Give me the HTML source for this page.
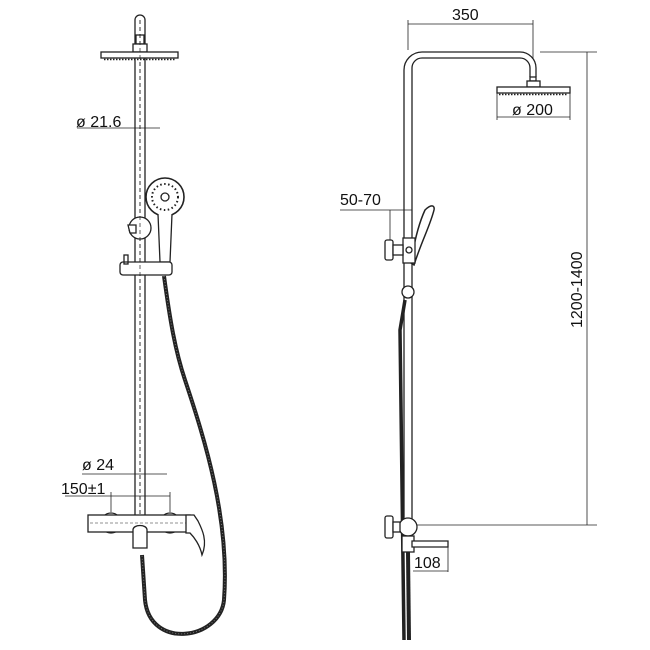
<!DOCTYPE html>
<html><head><style>body{margin:0;background:#fff}svg{display:block}text{font-family:"Liberation Sans",sans-serif;font-size:16px;fill:#111;stroke:none}</style></head><body>
<svg width="650" height="650" viewBox="0 0 650 650" fill="none" stroke="#222" stroke-width="1.3">
<!-- LEFT VIEW -->
<path d="M135 520 V20 a5 5 0 0 1 10 0 V520" fill="#fff"/>
<line x1="140" y1="20" x2="140" y2="515" stroke-dasharray="4 3" stroke-width="0.7"/>
<rect x="136" y="35" width="8" height="9"/>
<rect x="133" y="44" width="14" height="8" fill="#fff"/>
<rect x="101" y="52" width="77" height="6" fill="#fff"/>
<line x1="104" y1="59.5" x2="176" y2="59.5" stroke-dasharray="1.5 1.5" stroke-width="1.5"/>
<text x="76" y="127">ø 21.6</text>
<line x1="77" y1="128" x2="160" y2="128" stroke-width="0.8"/>
<circle cx="165" cy="197" r="19" fill="#fff" stroke-width="1.6"/>
<circle cx="165" cy="197" r="4"/>
<circle cx="165" cy="197" r="13" stroke-dasharray="1.5 2.5" stroke-width="2"/>
<path d="M158 214 L160 262 H170 L172 214" fill="#fff"/>
<circle cx="140" cy="228" r="11" fill="#fff"/>
<path d="M128 225 h8 v8 h-6 z" fill="#fff"/>
<rect x="120" y="262" width="52" height="13" rx="3" fill="#fff"/>
<rect x="124" y="255" width="4" height="9"/>
<line x1="140" y1="20" x2="140" y2="515" stroke-dasharray="4 3" stroke-width="0.7"/>
<path d="M164 276 C170 320 175 350 185 380 C205 440 230 520 224 600 C220 640 150 650 145 600 L142 555" stroke="#222" stroke-width="4"/>
<path d="M164 276 C170 320 175 350 185 380 C205 440 230 520 224 600 C220 640 150 650 145 600 L142 555" stroke="#777" stroke-width="1" stroke-dasharray="1 2"/>
<text x="82" y="470">ø 24</text>
<line x1="82" y1="474" x2="167" y2="474" stroke-width="0.8"/>
<text x="61" y="494">150±1</text>
<line x1="65" y1="496" x2="170" y2="496" stroke-width="0.8"/>
<line x1="111" y1="492" x2="111" y2="512" stroke-width="0.8"/>
<line x1="170" y1="492" x2="170" y2="512" stroke-width="0.8"/>
<circle cx="111" cy="523" r="10" fill="#fff"/>
<circle cx="170" cy="523" r="10" fill="#fff"/>
<rect x="88" y="515" width="102" height="17" fill="#fff"/>
<line x1="90" y1="523" x2="188" y2="523" stroke-dasharray="3 2" stroke-width="0.6"/>
<path d="M186 515 h8 l4 6 c4 8 10 20 4 34 c-2 -10 -8 -18 -12 -22 h-4z" fill="#fff"/>
<path d="M133 530 c0 -6 14 -6 14 0 v18 h-14z" fill="#fff"/>
<!-- RIGHT VIEW -->
<text x="452" y="20">350</text>
<line x1="408" y1="24" x2="533" y2="24" stroke-width="0.8"/>
<line x1="408" y1="20" x2="408" y2="50" stroke-width="0.8"/>
<line x1="533" y1="20" x2="533" y2="82" stroke-width="0.8"/>
<path d="M404 525 V70 a18 18 0 0 1 18 -18 H520 a16 16 0 0 1 16 16 V77 M530 77 V68 a10 10 0 0 0 -10 -10 H422 a10 10 0 0 0 -10 10 V525" fill="#fff"/>
<rect x="530" y="77" width="6" height="4"/>
<rect x="527" y="81" width="13" height="6" fill="#fff"/>
<rect x="497" y="87" width="73" height="6" fill="#fff"/>
<line x1="499" y1="94.5" x2="568" y2="94.5" stroke-dasharray="1.5 1.5" stroke-width="1.5"/>
<text x="512" y="115">ø 200</text>
<line x1="497" y1="117" x2="570" y2="117" stroke-width="0.8"/>
<line x1="497" y1="93" x2="497" y2="120" stroke-width="0.8"/>
<line x1="570" y1="93" x2="570" y2="120" stroke-width="0.8"/>
<line x1="540" y1="52" x2="597" y2="52" stroke-width="0.8"/>
<line x1="416" y1="525" x2="597" y2="525" stroke-width="0.8"/>
<line x1="587" y1="52" x2="587" y2="525" stroke-width="0.8"/>
<text transform="translate(582 328) rotate(-90)">1200-1400</text>
<text x="340" y="205">50-70</text>
<line x1="340" y1="210" x2="412" y2="210" stroke-width="0.8"/>
<line x1="390" y1="210" x2="390" y2="240" stroke-width="0.8"/>
<path d="M425 210 c6 -6 10 -5 9 0 c-4 16 -12 30 -20 55 l-3 -2 c3 -20 8 -40 14 -53z" fill="#fff" stroke-width="1.5"/>
<rect x="403" y="238" width="12" height="25" fill="#fff"/>
<rect x="385" y="240" width="8" height="20" rx="2" fill="#fff"/>
<rect x="393" y="245" width="10" height="10" fill="#fff"/>
<circle cx="409" cy="250" r="3"/>
<circle cx="408" cy="292" r="6" fill="#fff"/>
<path d="M405 300 L400 330 L404 640" stroke-width="3.5"/>
<circle cx="408" cy="527" r="9" fill="#fff"/>
<rect x="385" y="516" width="8" height="22" rx="2" fill="#fff"/>
<rect x="393" y="522" width="7" height="10" fill="#fff"/>
<rect x="402" y="536" width="12" height="16" fill="#fff"/>
<path d="M412 541 H448 v6 H412z" fill="#fff"/>
<line x1="448" y1="545" x2="448" y2="572" stroke-width="0.8"/>
<text x="414" y="568">108</text>
<line x1="413" y1="571" x2="448" y2="571" stroke-width="0.8"/>
<path d="M408 552 L409 640" stroke-width="4"/>
</svg>
</body></html>
